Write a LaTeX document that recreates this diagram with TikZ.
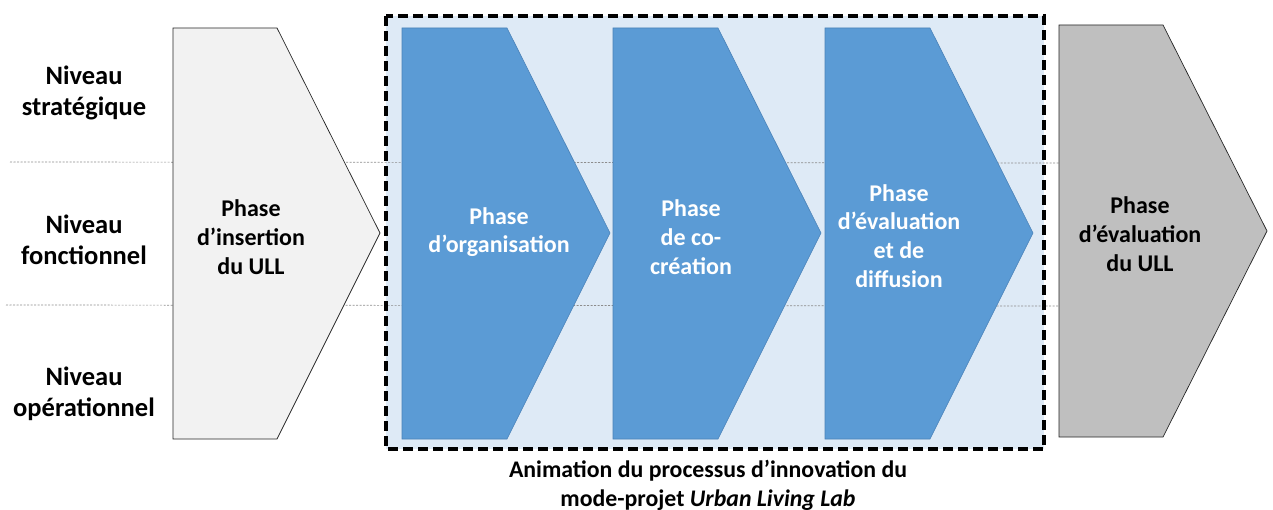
\documentclass[tikz,border=0pt]{standalone}
\usepackage{fontspec}
\setmainfont{Carlito}
\definecolor{phblue}{HTML}{5B9BD5}
\definecolor{phblueedge}{HTML}{4A82B8}
\definecolor{bgblue}{HTML}{DEEAF6}
\definecolor{lightgr}{HTML}{F2F2F2}
\definecolor{midgr}{HTML}{BFBFBF}
\definecolor{dotgr}{HTML}{8C8C8C}
\begin{document}
\begin{tikzpicture}[x=1pt,y=-1pt,
  lvl/.style={font=\fontsize{26.5}{31}\selectfont\bfseries, align=center, text=black, inner sep=0pt},
  phtext/.style={font=\fontsize{24}{28.7}\selectfont\bfseries, align=center, inner sep=0pt},
  captext/.style={font=\fontsize{23.8}{29}\selectfont\bfseries, align=center, inner sep=0pt},
  dotline/.style={draw=dotgr, line width=0.7pt, dash pattern=on 2pt off 1.5pt},
  blueph/.style={fill=phblue, draw=phblueedge, line width=0.6pt},
  grayph/.style={draw=black!85, line width=0.7pt},
  dashbox/.style={draw=black, line width=3.3pt, dash pattern=on 10pt off 5pt}]
\useasboundingbox (0,0) rectangle (1273,510);
% background of the ULL frame
\fill[bgblue] (386,16) rectangle (1044,449);
% level separators
\draw[dotline] (10,162) -- (1060,163);
\draw[dotline] (6,305) -- (1060,306);
% left phase
\draw[grayph, fill=lightgr] (173,28) -- (277,28) -- (380,233) -- (277,439) -- (173,439) -- cycle;
% blue phases
\draw[blueph] (402,28) -- (507,28) -- (610,233) -- (507,439) -- (402,439) -- cycle;
\draw[blueph] (613,28) -- (718,28) -- (821,233) -- (718,439) -- (613,439) -- cycle;
\draw[blueph] (825,28) -- (930,28) -- (1033,233) -- (930,439) -- (825,439) -- cycle;
% dashed frame
\draw[dashbox] (386,16) rectangle (1044,449);
% right phase
\draw[grayph, fill=midgr] (1059,25) -- (1163,25) -- (1267,231) -- (1163,437) -- (1059,437) -- cycle;
% level labels
\node[lvl] (ls) at (84,93) {Niveau\\stratégique};
\node[lvl] (lf) at (84,240) {Niveau\\fonctionnel};
\node[lvl] (lo) at (84,394) {Niveau\\opérationnel};
% phase labels
\node[phtext, text=black] (p1) at (251,237) {Phase\\d’insertion\\du ULL};
\node[phtext, text=white] (p2) at (499,232) {Phase\\d’organisation};
\node[phtext, text=white] (p3) at (691,237) {Phase\\de co-\\création};
\node[phtext, text=white] (p4) at (899,236) {Phase\\d’évaluation\\et de\\diffusion};
\node[phtext, text=black] (p5) at (1140,234) {Phase\\d’évaluation\\du ULL};
% caption
\node[captext] (cap) at (708,485) {Animation du processus d’innovation du\\mode-projet \textit{Urban Living Lab}};
\end{tikzpicture}
\end{document}
